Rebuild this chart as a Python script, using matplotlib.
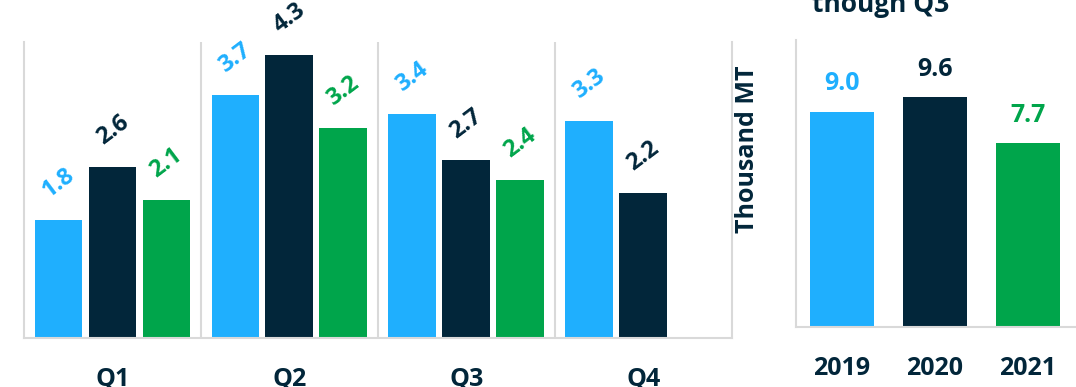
import matplotlib.pyplot as plt

## quarterly values (thousand MT)
quarters = ["Q1", "Q2", "Q3", "Q4"]
vals_2019 = [1.8, 3.7, 3.4, 3.3]
vals_2020 = [2.6, 4.3, 2.7, 2.2]
vals_2021 = [2.1, 3.2, 2.4, None]

## totals through Q3
years = ["2019", "2020", "2021"]
totals = [9.0, 9.6, 7.7]

light_blue = "#1FAFFE"
navy = "#02263A"
green = "#00A54B"
grey = "#D9D9D9"
colors = [light_blue, navy, green]

plt.rcParams["font.family"] = ["Open Sans", "DejaVu Sans"]
plt.rcParams["font.weight"] = "bold"

fig = plt.figure(figsize=(10.76, 3.87), dpi=100)

## left panel: quarters side by side
ax1 = fig.add_axes([0.0223, 0.1266, 0.6577, 0.7649])
width = 0.27
step = 0.305
series = [vals_2019, vals_2020, vals_2021]
for i, vals in enumerate(series):
    for q, v in enumerate(vals):
        if v is None:
            continue
        x = q + (i - 1) * step
        ax1.bar(x, v, width=width, color=colors[i])
        ax1.text(x, v + 0.56, f"{v:.1f}", color=colors[i], fontsize=17,
                 fontweight="bold", rotation=37, ha="center", va="center",
                 rotation_mode="anchor")

ax1.set_xlim(-0.5, 3.5)
ax1.set_ylim(0, 4.5)
for sep in [0.5, 1.5, 2.5]:
    ax1.axvline(sep, color=grey, lw=1.5)
ax1.set_xticks(range(len(quarters)))
ax1.set_xticklabels(quarters, fontsize=18, fontweight="bold", color=navy)
ax1.tick_params(axis="x", length=0, pad=21)
ax1.set_yticks([])
ax1.spines["top"].set_visible(False)
for s in ["left", "right", "bottom"]:
    ax1.spines[s].set_color(grey)
    ax1.spines[s].set_linewidth(1.5)

## right panel: totals through Q3
ax2 = fig.add_axes([0.7398, 0.155, 0.2602, 0.7416])
xs = range(len(years))
ax2.bar(xs, totals, width=0.69, color=colors)
for x, v, c in zip(xs, totals, colors):
    ax2.annotate(f"{v:.1f}", (x, v), xytext=(0, 20), textcoords="offset points",
                 ha="center", va="center", color=c, fontsize=18, fontweight="bold")
ax2.set_xlim(-0.495, 2.516)
ax2.set_ylim(0, 12)
ax2.set_xticks(list(xs))
ax2.set_xticklabels(years, fontsize=18, fontweight="bold", color=navy)
ax2.tick_params(axis="x", length=0, pad=21)
ax2.set_yticks([])
ax2.set_ylabel("Thousand MT", fontsize=18, fontweight="bold", color=navy)
ax2.yaxis.set_label_coords(-0.13, 0.62)
ax2.spines["top"].set_visible(False)
ax2.spines["right"].set_visible(False)
for s in ["left", "bottom"]:
    ax2.spines[s].set_color(grey)
    ax2.spines[s].set_linewidth(1.5)

fig.text(0.818, 1 - 12 / 387, "though Q3", ha="center", va="baseline",
         fontsize=19, fontweight="bold", color=navy)

fig.savefig("out.png", dpi=100)
